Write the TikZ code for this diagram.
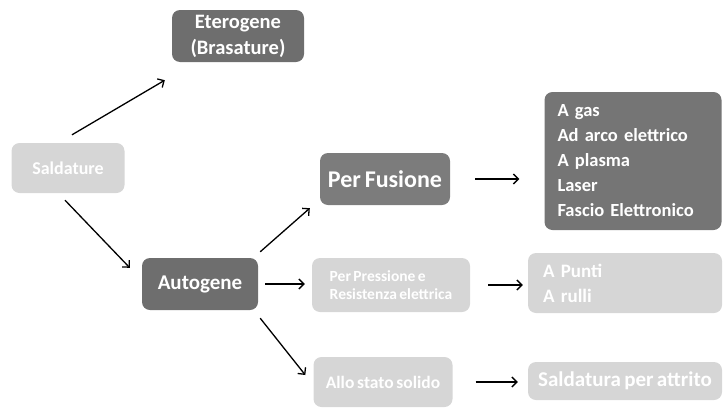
\documentclass[tikz,border=0pt]{standalone}
\usepackage{fontspec}
\setmainfont{Carlito}[WordSpace=0.7]
\usetikzlibrary{arrows.meta,calc}
\definecolor{darkbox}{HTML}{6E6E6E}
\definecolor{midbox}{HTML}{7C7C7C}
\definecolor{lightbox}{HTML}{D6D6D6}

\begin{document}
\begin{tikzpicture}[x=1pt,y=-1pt]
	\tikzstyle{every node}=[text=white]
	\tikzstyle{dark box}=[fill=darkbox, rounded corners=8pt, inner sep=0pt]
	\tikzstyle{light box}=[fill=lightbox, rounded corners=8pt, inner sep=0pt]
	\tikzstyle{arrow}=[line width=1.3pt, -{Straight Barb[length=5pt,width=10pt]}]
	\useasboundingbox (0,0) rectangle (725,407);
	% boxes
	\node [dark box, minimum width=132, minimum height=52, align=center, font=\fontsize{20.5}{26}\selectfont\bfseries] (eterogene) at (238,36) {Eterogene\\(Brasature)};
	\node [light box, minimum width=113, minimum height=50, font=\fontsize{18}{22}\selectfont\bfseries] (saldature) at (68,168) {Saldature};
	\node [dark box, fill=midbox, minimum width=130, minimum height=52, font=\fontsize{24}{28}\selectfont\bfseries] (fusione) at (385,179) {Per Fusione};
	\node [dark box, fill=darkbox!95, minimum width=177, minimum height=138, text width=151, align=left, font=\fontsize{18.5}{25}\selectfont\bfseries] (gas) at (633,161) {A gas\\Ad arco elettrico\\A plasma\\Laser\\Fascio Elettronico};
	\node [dark box, minimum width=116, minimum height=52, font=\fontsize{21}{25}\selectfont\bfseries] (autogene) at (200,284) {Autogene};
	\node [light box, minimum width=158, minimum height=54, align=left, font=\fontsize{15.5}{18}\selectfont\bfseries] (pressione) at (391,285) {Per Pressione e\\Resistenza elettrica};
	\node [light box, minimum width=194, minimum height=60, text width=164, align=left, font=\fontsize{19}{25}\selectfont\bfseries] (punti) at (625,283) {A Punti\\A rulli};
	\node [light box, minimum width=139, minimum height=50, font=\fontsize{17.5}{20}\selectfont\bfseries] (solido) at (383,382) {Allo stato solido};
	\node [light box, minimum width=194, minimum height=38, font=\fontsize{21}{24}\selectfont\bfseries] (attrito) at (625,381) {Saldatura per attrito};
	% arrows
	\draw [arrow] ([xshift=4pt,yshift=8pt]saldature.north) -- ([xshift=-7pt,yshift=-18pt]eterogene.south west);
	\draw [arrow] ([xshift=-3pt,yshift=-7pt]saldature.south) -- ([xshift=-12pt,yshift=-10pt]autogene.north west);
	\draw [arrow] ([xshift=2pt,yshift=6pt]autogene.north east) -- ([xshift=-10pt,yshift=-3pt]fusione.south west);
	\draw [arrow, shorten <=7pt, shorten >=7pt] (autogene.east) -- (autogene.east -| pressione.west);
	\draw [arrow] ([xshift=2pt,yshift=-8pt]autogene.south east) -- ([xshift=-8pt,yshift=7pt]solido.west);
	\draw [arrow, shorten <=25pt, shorten >=25pt] (fusione.east) -- (fusione.east -| gas.west);
	\draw [arrow, shorten <=18pt, shorten >=5pt] (pressione.east) -- (pressione.east -| punti.west);
	\draw [arrow, shorten <=23pt, shorten >=10pt] (solido.east) -- (solido.east -| attrito.west);
\end{tikzpicture}
\end{document}
